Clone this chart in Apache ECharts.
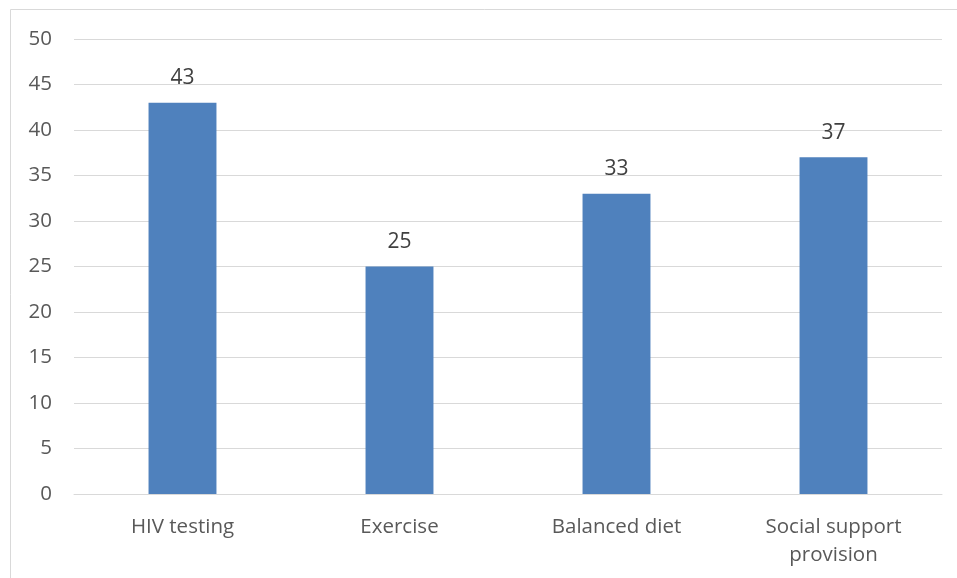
<!DOCTYPE html>
<html><head><meta charset="utf-8">
<script src="https://cdn.jsdelivr.net/npm/echarts@6/dist/echarts.min.js"></script>
<style>html,body{margin:0;padding:0;background:#fff}#c{width:957px;height:578px}</style>
</head><body><div id="c"></div>
<script>
const categories = ['HIV testing', 'Exercise', 'Balanced diet', 'Social support\nprovision'];
const values = [43, 25, 33, 37];
const yTicks = [0, 5, 10, 15, 20, 25, 30, 35, 40, 45, 50];

const chart = echarts.init(document.getElementById('c'));
const font = '"Open Sans", "Liberation Sans", Arial, sans-serif';
chart.setOption({
  animation: false,
  graphic: [{type: 'rect', shape: {x: 10.5, y: 9.5, width: 960, height: 600}, style: {fill: 'none', stroke: '#d9d9d9', lineWidth: 1}}],
  grid: {left: 74, right: 15, top: 39, bottom: 84, containLabel: false},
  xAxis: {
    type: 'category', data: categories,
    axisLine: {show: true, lineStyle: {color: '#d9d9d9'}},
    axisTick: {show: false},
    axisLabel: {color: '#595959', fontSize: 20.5, fontFamily: font, margin: 19, lineHeight: 28, interval: 0}
  },
  yAxis: {
    type: 'value', min: yTicks[0], max: yTicks[yTicks.length - 1], interval: 5,
    axisLine: {show: false}, axisTick: {show: false},
    splitLine: {lineStyle: {color: '#d9d9d9'}},
    axisLabel: {color: '#595959', fontSize: 20.5, fontFamily: font, margin: 22}
  },
  series: [{
    type: 'bar', data: values, barWidth: '31.3%',
    itemStyle: {color: '#4f81bd'},
    label: {show: true, position: 'top', color: '#404040', fontSize: 21, fontFamily: font, distance: 14}
  }]
});
</script></body></html>
